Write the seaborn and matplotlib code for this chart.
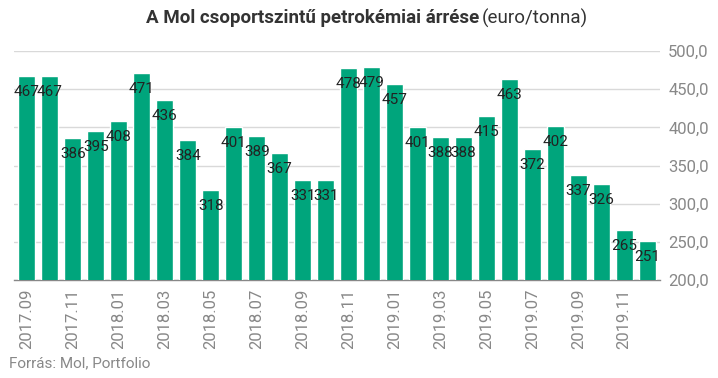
import matplotlib
matplotlib.use("Agg")
import matplotlib.pyplot as plt
import seaborn as sns
import pandas as pd
from matplotlib.ticker import FuncFormatter

months = ["2017.09", "2017.10", "2017.11", "2017.12",
          "2018.01", "2018.02", "2018.03", "2018.04", "2018.05", "2018.06",
          "2018.07", "2018.08", "2018.09", "2018.10", "2018.11", "2018.12",
          "2019.01", "2019.02", "2019.03", "2019.04", "2019.05", "2019.06",
          "2019.07", "2019.08", "2019.09", "2019.10", "2019.11", "2019.12"]
values = [467, 467, 386, 395, 408, 471, 436, 384, 318, 401, 389, 367, 331, 331,
          478, 479, 457, 401, 388, 388, 415, 463, 372, 402, 337, 326, 265, 251]
yticks = [200, 250, 300, 350, 400, 450, 500]

sns.set_theme(style="white")
plt.rcParams['font.family'] = ['Roboto', 'DejaVu Sans']

df = pd.DataFrame({"month": months, "value": values})

fig = plt.figure(figsize=(7.18, 3.78), dpi=100)
ax = fig.add_axes([0.02, 0.259, 0.899, 0.606])

sns.barplot(data=df, x="month", y="value", color="#00A57C", saturation=1,
            width=0.74, ax=ax, zorder=3)

for i, v in enumerate(values):
    ax.annotate(str(v), (i, v), xytext=(0, -11.5), textcoords="offset points",
                ha="center", va="center", fontsize=11, color="#222222", zorder=4)

ax.set_ylim(200, 500)
ax.set_xlim(-0.55, len(values) - 0.45)
ax.set_yticks(yticks)
ax.yaxis.set_major_formatter(FuncFormatter(lambda v, p: f"{v:.1f}".replace(".", ",")))
ax.yaxis.tick_right()
ax.grid(axis="y", color="#d9d9d9", linewidth=1, zorder=0)
ax.set_axisbelow(True)
for s in ["top", "left", "right"]:
    ax.spines[s].set_visible(False)
ax.spines["bottom"].set_color("#888888")
ax.spines["bottom"].set_linewidth(1)

ax.set_xticks(range(0, len(months), 2))
ax.set_xticklabels(months[::2], rotation=90)
ax.tick_params(axis="x", length=0, pad=6, labelsize=12, labelcolor="#888888")
ax.tick_params(axis="y", length=0, pad=6, labelsize=12, labelcolor="#888888")
ax.set_xlabel("")
ax.set_ylabel("")

fig.text(0.667, 0.952, "A Mol csoportszintű petrokémiai árrése", ha="right", va="center",
         fontsize=13.5, fontweight="bold", color="#333333")
fig.text(0.671, 0.952, "(euro/tonna)", ha="left", va="center",
         fontsize=13.5, color="#333333")
fig.text(0.012, 0.04, "Forrás: Mol, Portfolio", ha="left", va="center",
         fontsize=11, color="#888888")

fig.savefig("out.png", dpi=100)
